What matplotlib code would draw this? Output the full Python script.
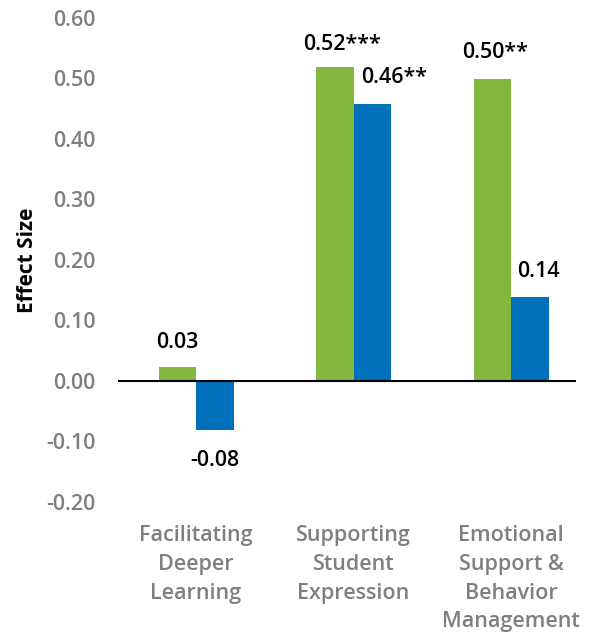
import numpy as np
import matplotlib.pyplot as plt

# Data
categories = ["Facilitating\nDeeper\nLearning", "Supporting\nStudent\nExpression",
              "Emotional\nSupport &\nBehavior\nManagement"]
green_vals = [0.023, 0.519, 0.499]
blue_vals = [-0.081, 0.458, 0.139]
green_labels = ["0.03", "0.52***", "0.50**"]
blue_labels = ["-0.08", "0.46**", "0.14"]
yticks = [-0.2, -0.1, 0.0, 0.1, 0.2, 0.3, 0.4, 0.5, 0.6]

plt.rcParams['font.family'] = ['Open Sans', 'DejaVu Sans']

green = '#84b73f'
blue = '#0070bb'
gray = '#7f7f7f'

fig = plt.figure(figsize=(5.9, 6.32), dpi=100)
ax = fig.add_axes([0.2, 0.2057, 0.776, 0.766])

x = np.arange(len(categories))
w = 0.238
ax.bar(x - w / 2, green_vals, w, color=green)
ax.bar(x + w / 2, blue_vals, w, color=blue)

# label offsets in points (dx, dy) for each bar
g_off = [(0, 18), (5, 16), (2, 19)]
b_off = [(0, -22), (16, 19), (6, 18)]
for i in range(len(x)):
    for val, lab, off, xc in [(green_vals[i], green_labels[i], g_off[i], x[i] - w / 2),
                              (blue_vals[i], blue_labels[i], b_off[i], x[i] + w / 2)]:
        ax.annotate(lab, (xc, val), xytext=off, textcoords='offset points',
                    ha='center', va='center', fontsize=15.5, fontweight='semibold',
                    color='black')

ax.axhline(0, color='black', lw=1.5)
ax.set_xlim(-0.495, 2.41)
ax.set_ylim(-0.2, 0.6)
ax.set_yticks(yticks)
ax.set_yticklabels([f"{t:.2f}" for t in yticks])
ax.set_xticks(x)
ax.set_xticklabels(categories, linespacing=1.49)
ax.tick_params(length=0, labelsize=15.5, labelcolor=gray)
ax.tick_params(axis='y', pad=16)
ax.tick_params(axis='x', pad=16.5)
for t in ax.get_xticklabels() + ax.get_yticklabels():
    t.set_fontweight('semibold')
for s in ax.spines.values():
    s.set_visible(False)

ax.set_ylabel("Effect Size", fontsize=15, fontweight='bold', color='black', labelpad=6)

fig.savefig("out.png", dpi=100)
